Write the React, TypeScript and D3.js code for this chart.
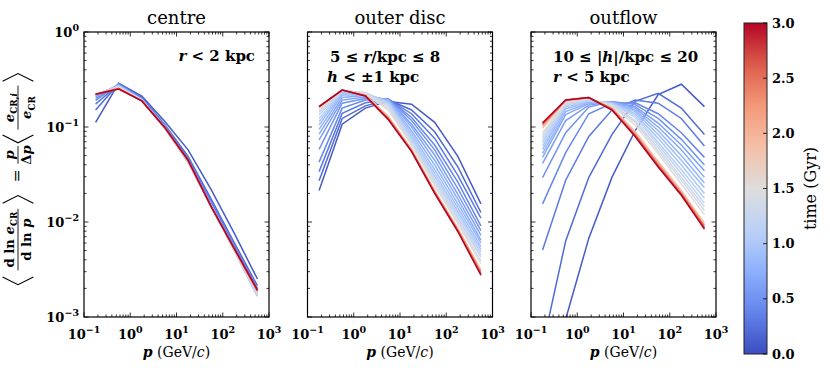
import React from 'react';
import * as d3 from 'd3';

// momentum bin centres (GeV/c)
const momenta = [0.178, 0.562, 1.78, 5.62, 17.8, 56.2, 178, 562];
// snapshot times (Gyr)
const times = [0.1, 0.2, 0.3, 0.4, 0.5, 0.6, 0.7, 0.8, 0.9, 1.0, 1.1, 1.2, 1.3, 1.4, 1.5, 1.8, 2.1, 2.4, 2.7, 3.0];

const centreSpectra = [
  [0.112, 0.288, 0.211, 0.114, 0.0575, 0.0219, 0.00759, 0.00251],
  [0.151, 0.285, 0.204, 0.106, 0.049, 0.0174, 0.00603, 0.00214],
  [0.174, 0.283, 0.202, 0.1035, 0.0468, 0.0164, 0.00562, 0.0020],
  [0.191, 0.282, 0.200, 0.102, 0.0452, 0.0158, 0.00543, 0.00191],
  [0.200, 0.280, 0.197, 0.101, 0.0442, 0.0155, 0.00531, 0.00184],
  [0.209, 0.278, 0.196, 0.100, 0.0437, 0.0151, 0.00519, 0.00178],
  [0.214, 0.275, 0.195, 0.0989, 0.0432, 0.0150, 0.00513, 0.00172],
  [0.217, 0.274, 0.194, 0.0982, 0.0427, 0.0148, 0.00507, 0.00168],
  [0.219, 0.272, 0.193, 0.0977, 0.0425, 0.0147, 0.00501, 0.00166],
  [0.220, 0.270, 0.192, 0.0973, 0.0423, 0.0146, 0.00499, 0.00166],
  [0.220, 0.268, 0.192, 0.0970, 0.0422, 0.0146, 0.00498, 0.00167],
  [0.220, 0.266, 0.191, 0.0970, 0.0425, 0.0146, 0.00501, 0.00170],
  [0.220, 0.264, 0.191, 0.0973, 0.0427, 0.0146, 0.00504, 0.00173],
  [0.220, 0.262, 0.191, 0.0975, 0.0430, 0.0145, 0.00508, 0.00177],
  [0.220, 0.261, 0.190, 0.0977, 0.0433, 0.0145, 0.00511, 0.00180],
  [0.221, 0.259, 0.190, 0.0979, 0.0436, 0.0145, 0.00514, 0.00183],
  [0.221, 0.256, 0.189, 0.0980, 0.0441, 0.0145, 0.00519, 0.00187],
  [0.221, 0.254, 0.189, 0.0982, 0.0443, 0.0145, 0.00521, 0.00189],
  [0.221, 0.253, 0.188, 0.0983, 0.0445, 0.0145, 0.00523, 0.00190],
  [0.221, 0.251, 0.188, 0.0984, 0.0447, 0.0145, 0.00525, 0.00192],
];

const outerDiscSpectra = [
  [0.0214, 0.107, 0.158, 0.186, 0.174, 0.112, 0.049, 0.0155],
  [0.0272, 0.123, 0.167, 0.193, 0.151, 0.0891, 0.038, 0.0126],
  [0.0339, 0.139, 0.180, 0.195, 0.138, 0.0759, 0.0309, 0.011],
  [0.0427, 0.158, 0.192, 0.197, 0.126, 0.0646, 0.0263, 0.00912],
  [0.0582, 0.178, 0.200, 0.197, 0.117, 0.0575, 0.0224, 0.00813],
  [0.0730, 0.192, 0.207, 0.195, 0.107, 0.0507, 0.0195, 0.00724],
  [0.0843, 0.204, 0.214, 0.193, 0.100, 0.0447, 0.0174, 0.00646],
  [0.0944, 0.217, 0.219, 0.191, 0.0912, 0.0398, 0.0155, 0.00603],
  [0.105, 0.226, 0.223, 0.186, 0.0851, 0.0355, 0.0141, 0.0055],
  [0.114, 0.232, 0.226, 0.182, 0.0794, 0.0324, 0.0129, 0.00513],
  [0.123, 0.236, 0.229, 0.178, 0.0759, 0.0302, 0.012, 0.00479],
  [0.134, 0.239, 0.230, 0.172, 0.0724, 0.0282, 0.0112, 0.00447],
  [0.142, 0.241, 0.230, 0.166, 0.0692, 0.0269, 0.0107, 0.00427],
  [0.149, 0.243, 0.228, 0.157, 0.0660, 0.0252, 0.0100, 0.00390],
  [0.154, 0.244, 0.225, 0.150, 0.0640, 0.0240, 0.00955, 0.00365],
  [0.162, 0.245, 0.217, 0.130, 0.0585, 0.0215, 0.0086, 0.00316],
  [0.163, 0.245, 0.215, 0.126, 0.0575, 0.0210, 0.0084, 0.00303],
  [0.164, 0.245, 0.214, 0.123, 0.0565, 0.0206, 0.00818, 0.00292],
  [0.164, 0.245, 0.213, 0.121, 0.0557, 0.0203, 0.00805, 0.00283],
  [0.164, 0.245, 0.212, 0.119, 0.055, 0.020, 0.00794, 0.00275],
];

const outflowSpectra = [
  [0.00005, 0.00095, 0.00676, 0.0295, 0.0912, 0.219, 0.282, 0.164],
  [0.00049, 0.00631, 0.0295, 0.0832, 0.186, 0.226, 0.158, 0.0832],
  [0.00507, 0.0275, 0.0794, 0.151, 0.192, 0.178, 0.123, 0.0631],
  [0.0155, 0.0537, 0.138, 0.178, 0.180, 0.138, 0.0871, 0.0479],
  [0.0293, 0.0871, 0.162, 0.186, 0.172, 0.123, 0.0741, 0.0398],
  [0.0414, 0.117, 0.170, 0.184, 0.164, 0.110, 0.0646, 0.0347],
  [0.048, 0.135, 0.176, 0.184, 0.158, 0.100, 0.0575, 0.0295],
  [0.0528, 0.145, 0.180, 0.182, 0.151, 0.0912, 0.0501, 0.0257],
  [0.0582, 0.155, 0.184, 0.180, 0.145, 0.0832, 0.0447, 0.0229],
  [0.0631, 0.162, 0.188, 0.178, 0.138, 0.0759, 0.0398, 0.020],
  [0.0684, 0.168, 0.191, 0.176, 0.132, 0.0692, 0.0355, 0.0178],
  [0.0730, 0.172, 0.194, 0.174, 0.126, 0.0646, 0.0324, 0.0158],
  [0.0778, 0.176, 0.196, 0.172, 0.117, 0.0603, 0.0295, 0.0145],
  [0.0824, 0.180, 0.198, 0.170, 0.112, 0.0562, 0.0275, 0.0132],
  [0.0871, 0.183, 0.200, 0.166, 0.105, 0.0525, 0.0251, 0.0120],
  [0.097, 0.188, 0.202, 0.160, 0.090, 0.0435, 0.0215, 0.0097],
  [0.102, 0.190, 0.203, 0.157, 0.0860, 0.0415, 0.0206, 0.0093],
  [0.106, 0.191, 0.204, 0.155, 0.0835, 0.0400, 0.0200, 0.0090],
  [0.108, 0.192, 0.204, 0.153, 0.0815, 0.0390, 0.0195, 0.0087],
  [0.111, 0.192, 0.204, 0.151, 0.0794, 0.038, 0.0191, 0.00841],
];

const panelTitles = ['centre', 'outer disc', 'outflow'];
const xTickExponents = [-1, 0, 1, 2, 3];
const yTickExponents = [0, -1, -2, -3];
const colorbarTicks = [0, 0.5, 1, 1.5, 2, 2.5, 3];

const coolwarmStops: [number, string][] = [
  [0, '#3b4cc0'], [0.125, '#6384eb'], [0.25, '#8db0fe'], [0.375, '#bcd2f7'],
  [0.5, '#dddddd'], [0.625, '#f5c0a7'], [0.75, '#f4987a'], [0.875, '#dc5d4a'], [1, '#b40426'],
];
const coolwarm = d3.scaleLinear<string>()
  .domain(coolwarmStops.map((s) => s[0]))
  .range(coolwarmStops.map((s) => s[1]))
  .interpolate(d3.interpolateRgb)
  .clamp(true);

const SERIF = 'DejaVu Serif';

function sup(e: number) {
  return e < 0 ? '\u2212' + Math.abs(e) : String(e);
}

export default function App() {
  const W = 830;
  const H = 373;
  const panelLefts = [84, 307.5, 531];
  const pw = 185;
  const top = 32;
  const bottom = 317;
  const y = d3.scaleLog().domain([1e-3, 1]).range([bottom, top]);
  const tNorm = d3.scaleLinear().domain([0, 3]).range([0, 1]);
  const cb = d3.scaleLinear().domain([0, 3]).range([354, 23]);
  const cbX = 744;
  const cbW = 23;
  const panels = [centreSpectra, outerDiscSpectra, outflowSpectra];
  const isMajor = (v: number) => Math.abs(Math.log10(v) - Math.round(Math.log10(v))) < 1e-6;

  const annotations = [
    <text key="a0" x={255} y={61} textAnchor="end" fontWeight="bold" fontSize={15}>
      <tspan fontStyle="italic">r</tspan> &lt; 2 kpc
    </text>,
    <g key="a1" fontWeight="bold" fontSize={15}>
      <text x={330} y={62}>5 ≤ <tspan fontStyle="italic">r</tspan>/kpc ≤ 8</text>
      <text x={327} y={82}><tspan fontStyle="italic">h</tspan> &lt; ±1 kpc</text>
    </g>,
    <g key="a2" fontWeight="bold" fontSize={15}>
      <text x={553} y={62}>10 ≤ |<tspan fontStyle="italic">h</tspan>|/kpc ≤ 20</text>
      <text x={553} y={82}><tspan fontStyle="italic">r</tspan> &lt; 5 kpc</text>
    </g>,
  ];

  const gradStops = d3.range(0, 1.0001, 0.05);

  const lb = (tip: number, arms: number) => (
    <path d={`M${arms},-14L${tip},0L${arms},14`} fill="none" stroke="#000" strokeWidth={1} />
  );

  return (
    <svg width={W} height={H} style={{ position: 'absolute', left: 0, top: 0 }} fontFamily={SERIF}>
      <defs>
        {panelLefts.map((L, i) => (
          <clipPath id={`clip${i}`} key={i}>
            <rect x={L} y={top} width={pw} height={bottom - top} />
          </clipPath>
        ))}
        <linearGradient id="cbgrad" x1="0" y1="1" x2="0" y2="0">
          {gradStops.map((s) => (
            <stop key={s} offset={s} stopColor={coolwarm(s)} />
          ))}
        </linearGradient>
      </defs>
      <rect width={W} height={H} fill="#fff" />

      {panels.map((data, pi) => {
        const L = panelLefts[pi];
        const x = d3.scaleLog().domain([0.1, 1000]).range([L, L + pw]);
        const line = d3.line<number>().x((_, i) => x(momenta[i])).y((d) => y(d));
        const xt = x.ticks();
        const yt = y.ticks();
        return (
          <g key={pi}>
            <g clipPath={`url(#clip${pi})`}>
              {data.map((series, si) => (
                <path key={si} d={line(series) || ''} fill="none"
                  stroke={coolwarm(tNorm(times[si]))} strokeWidth={1.5} strokeLinejoin="miter" />
              ))}
            </g>
            {xt.map((v, i) => {
              const len = isMajor(v) ? 4.5 : 2.5;
              const xx = x(v);
              return (
                <g key={'xt' + i} stroke="#000" strokeWidth={0.8}>
                  <line x1={xx} x2={xx} y1={bottom} y2={bottom - len} />
                  <line x1={xx} x2={xx} y1={top} y2={top + len} />
                </g>
              );
            })}
            {yt.map((v, i) => {
              const len = isMajor(v) ? 4.5 : 2.5;
              const yy = y(v);
              return (
                <g key={'yt' + i} stroke="#000" strokeWidth={0.8}>
                  <line x1={L} x2={L + len} y1={yy} y2={yy} />
                  <line x1={L + pw} x2={L + pw - len} y1={yy} y2={yy} />
                </g>
              );
            })}
            <rect x={L} y={top} width={pw} height={bottom - top} fill="none" stroke="#000" strokeWidth={1.2} />
            {xTickExponents.map((e) => (
              <text key={'xl' + e} x={x(Math.pow(10, e))} y={339} textAnchor="middle" fontSize={13} fontWeight="bold">
                10<tspan dy={-6} fontSize={9.5}>{sup(e)}</tspan>
              </text>
            ))}
            {pi === 0 && yTickExponents.map((e) => (
              <text key={'yl' + e} x={79} y={y(Math.pow(10, e)) + 5} textAnchor="end" fontSize={13} fontWeight="bold">
                10<tspan dy={-6} fontSize={9.5}>{sup(e)}</tspan>
              </text>
            ))}
            <text x={L + pw / 2} y={24} textAnchor="middle" fontSize={18}>{panelTitles[pi]}</text>
            <text x={L + pw / 2} y={357} textAnchor="middle" fontSize={14}>
              <tspan fontStyle="italic" fontWeight="bold">p</tspan> (GeV/<tspan fontStyle="italic">c</tspan>)
            </text>
            {annotations[pi]}
          </g>
        );
      })}

      <g transform="translate(18,178) rotate(-90) scale(1.1)" fontWeight="bold" fontSize={12}>
        {lb(-97, -90)}
        <text x={-56} y={-4} textAnchor="middle">d ln <tspan fontStyle="italic">e</tspan><tspan fontSize={8} dy={3}>CR</tspan></text>
        <line x1={-84} x2={-28} y1={0} y2={0} stroke="#000" strokeWidth={0.8} />
        <text x={-56} y={12} textAnchor="middle">d ln <tspan fontStyle="italic">p</tspan></text>
        {lb(-16, -23)}
        <text x={2} y={4} textAnchor="middle" fontSize={14} fontWeight="normal">=</text>
        <text x={21} y={-4} textAnchor="middle" fontStyle="italic">p</text>
        <line x1={13} x2={29} y1={0} y2={0} stroke="#000" strokeWidth={0.8} />
        <text x={21} y={12} textAnchor="middle">Δ<tspan fontStyle="italic">p</tspan></text>
        {lb(32, 39)}
        <text x={64} y={-4} textAnchor="middle"><tspan fontStyle="italic">e</tspan><tspan fontSize={8} dy={3}>CR,<tspan fontStyle="italic">i</tspan></tspan></text>
        <line x1={44} x2={84} y1={0} y2={0} stroke="#000" strokeWidth={0.8} />
        <text x={64} y={12} textAnchor="middle"><tspan fontStyle="italic">e</tspan><tspan fontSize={8} dy={3}>CR</tspan></text>
        {lb(95, 88)}
      </g>

      <rect x={cbX} y={cb(3)} width={cbW} height={cb(0) - cb(3)} fill="url(#cbgrad)" stroke="#222" strokeWidth={1} />
      {colorbarTicks.map((t) => (
        <g key={'cb' + t}>
          <line x1={cbX + cbW} x2={cbX + cbW - 4} y1={cb(t)} y2={cb(t)} stroke="#000" strokeWidth={0.8} />
          <text x={cbX + cbW + 5} y={cb(t) + 4.5} fontSize={13} fontWeight="bold">{t.toFixed(1)}</text>
        </g>
      ))}
      <text transform={`translate(816,${(cb(0) + cb(3)) / 2}) rotate(-90)`} textAnchor="middle" fontSize={16}>time (Gyr)</text>
    </svg>
  );
}
